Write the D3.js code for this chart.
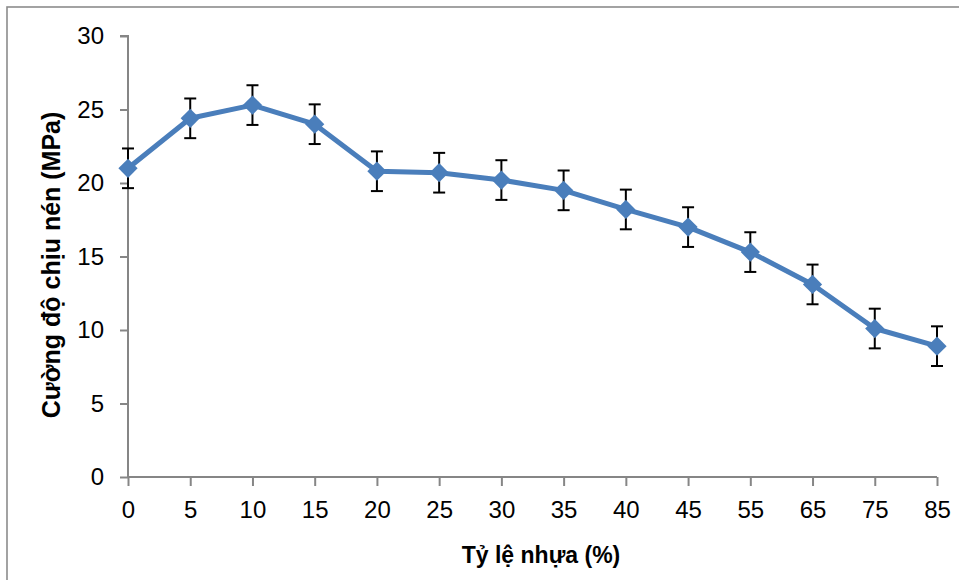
<!DOCTYPE html>
<html><head><meta charset="utf-8">
<script src="https://cdn.jsdelivr.net/npm/d3@7"></script>
<style>body{margin:0;background:#fff}svg{display:block}</style>
</head><body>
<svg id="c" width="959" height="580"></svg>
<script>
const categories = ["0","5","10","15","20","25","30","35","40","45","55","65","75","85"];
const values = [21.0,24.4,25.3,24.0,20.8,20.7,20.2,19.5,18.2,17.0,15.3,13.1,10.1,8.9];
const errors = [1.35,1.35,1.35,1.35,1.35,1.35,1.35,1.35,1.35,1.35,1.35,1.35,1.35,1.35];
const yTicks = [0,5,10,15,20,25,30];
const xTitle = "Tỷ lệ nhựa (%)";
const yTitle = "Cường độ chịu nén (MPa)";

const svg = d3.select("#c");
const L = 128, R = 937, T = 36, B = 477;
const x = d3.scalePoint().domain(categories).range([L, R]);
const y = d3.scaleLinear().domain([0,30]).range([B, T]);
const font = "'Liberation Sans', Arial, sans-serif";
const axisCol = "#868686";

svg.append("rect").attr("x",7).attr("y",7).attr("width",1200).attr("height",1200)
  .attr("fill","none").attr("stroke","#8c8c8c").attr("stroke-width",1.6);

const ya = svg.append("g").attr("transform",`translate(${L},0)`)
  .call(d3.axisLeft(y).tickValues(yTicks).tickSize(8).tickPadding(16));
ya.attr("font-size",null).attr("font-family",null);
ya.select(".domain").attr("stroke",axisCol).attr("stroke-width",2).attr("d",`M-8,${T}H0V${B}`);
ya.selectAll(".tick line").attr("stroke",axisCol).attr("stroke-width",2);
ya.selectAll(".tick text").style("font-family",font).style("font-size","24px").attr("fill","#000");

const xa = svg.append("g").attr("transform",`translate(0,${B})`)
  .call(d3.axisBottom(x).tickSize(9).tickPadding(15));
xa.attr("font-size",null).attr("font-family",null);
xa.select(".domain").attr("stroke",axisCol).attr("stroke-width",2).attr("d",`M${L},0H${R}`);
xa.selectAll(".tick line").attr("stroke",axisCol).attr("stroke-width",2);
xa.selectAll(".tick text").style("font-family",font).style("font-size","24px").attr("fill","#000");

svg.append("text").attr("x",541).attr("y",563).attr("text-anchor","middle")
  .style("font-family",font).style("font-weight","bold").style("font-size","23px").text(xTitle);
svg.append("text").attr("transform","translate(60,265) rotate(-90)").attr("text-anchor","middle")
  .style("font-family",font).style("font-weight","bold").style("font-size","25px").text(yTitle);

const data = categories.map((c,i)=>({c, v:values[i], e:errors[i]}));

svg.append("path").datum(data).attr("fill","none").attr("stroke","#4a7ebb")
  .attr("stroke-width",5).attr("stroke-linejoin","round")
  .attr("d", d3.line().x(d=>x(d.c)).y(d=>y(d.v)));

const eb = svg.append("g").attr("stroke","#000").attr("stroke-width",2);
data.forEach(d=>{
  const cx = x(d.c), t = y(d.v+d.e), b = y(d.v-d.e);
  eb.append("line").attr("x1",cx).attr("x2",cx).attr("y1",t).attr("y2",b);
  eb.append("line").attr("x1",cx-6).attr("x2",cx+6).attr("y1",t).attr("y2",t);
  eb.append("line").attr("x1",cx-6).attr("x2",cx+6).attr("y1",b).attr("y2",b);
});

svg.append("g").selectAll("path").data(data).join("path")
  .attr("transform",d=>`translate(${x(d.c)},${y(d.v)}) rotate(45)`)
  .attr("d", d3.symbol().type(d3.symbolSquare).size(185))
  .attr("fill","#4a7ebb");
</script>
</body></html>
